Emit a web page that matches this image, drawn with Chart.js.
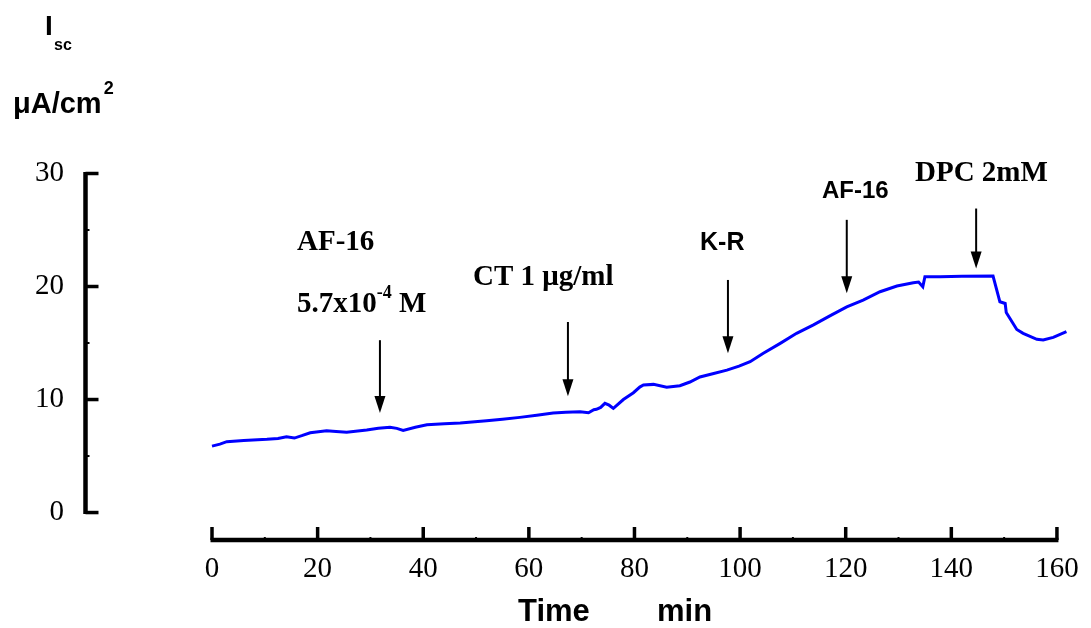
<!DOCTYPE html>
<html>
<head>
<meta charset="utf-8">
<script src="https://cdn.jsdelivr.net/npm/chart.js@4/dist/chart.umd.min.js"></script>
<style>
  body { margin: 0; background: #fff; }
  canvas { display: block; }
</style>
</head>
<body>
<canvas id="isc" width="1091" height="628"></canvas>
<script>
// time (min) and short-circuit current (uA/cm2)
var times = [0, 1.5, 2.8, 6, 10.4, 12.5, 14.1, 15.6, 17, 18.6, 21.7, 23.5, 25.5, 29.3, 31.5, 33.7, 35, 36.2, 38.5, 40.7,
    44, 47, 52, 55, 58.3, 61.5, 64.6, 67, 69.7, 71.3, 72.3, 72.8, 73.6, 74.4, 75.2, 76, 77.9, 79.8, 81, 81.7,
    83.6, 86.1, 88.6, 90.5, 92.4, 95, 97.5, 99.8, 101.9, 104.4, 107.6, 110.7, 113.9, 117, 120.2, 123.3, 126.5, 129.7,
    132.8, 133.8, 134.6, 135, 137.9, 142, 147.9, 149.2, 150.2, 150.4, 152.4, 153.6, 156.2, 157.4, 159.3, 161.8];
var isc = [5.88, 6.05, 6.27, 6.38, 6.48, 6.55, 6.71, 6.59, 6.8, 7.06, 7.24, 7.18, 7.1, 7.3, 7.45, 7.54, 7.45, 7.27, 7.55, 7.77,
    7.85, 7.92, 8.12, 8.25, 8.42, 8.6, 8.8, 8.88, 8.92, 8.83, 9.1, 9.13, 9.3, 9.66, 9.5, 9.22, 10.0, 10.6, 11.1, 11.28,
    11.34, 11.08, 11.22, 11.55, 12.0, 12.3, 12.6, 12.95, 13.35, 14.09, 14.97, 15.86, 16.6, 17.4, 18.2, 18.8, 19.54, 20.04,
    20.34, 20.4, 19.98, 20.87, 20.87, 20.9, 20.93, 18.65, 18.5, 17.7, 16.2, 15.86, 15.33, 15.27, 15.5, 16.0];

var xTicks = [0, 20, 40, 60, 80, 100, 120, 140, 160];
var xMinor = [10, 30, 50, 70, 90, 110, 130, 150];
var yTicks = [0, 10, 20, 30];
var yMinor = [5, 15, 25];

// arrows: time, top of shaft, tip (in uA/cm2)
var arrowT = [31.8, 67.4, 97.7, 120.2, 144.7];
var arrowTop = [15.25, 16.86, 20.58, 25.9, 26.9];
var arrowTip = [8.8, 10.3, 14.1, 19.4, 21.6];

var serif = '"Liberation Serif", "Times New Roman", serif';
var sans = '"Liberation Sans", Arial, sans-serif';

var pts = [];
for (var i = 0; i < times.length; i++) {
    pts.push({x: times[i], y: isc[i]});
}

var decor = {
    id: 'decor',
    afterDraw: function (chart) {
        var ctx = chart.ctx;
        var xs = chart.scales.x, ys = chart.scales.y;
        var ax = chart.chartArea.left + 0.5;
        var ay = chart.chartArea.bottom;
        ctx.save();
        ctx.strokeStyle = '#000';
        ctx.fillStyle = '#000';
        ctx.lineCap = 'butt';

        // y axis
        ctx.lineWidth = 4.5;
        ctx.beginPath();
        ctx.moveTo(ax, ys.getPixelForValue(0) + 1.5);
        ctx.lineTo(ax, ys.getPixelForValue(30) - 1.5);
        ctx.stroke();
        ctx.lineWidth = 3.5;
        yTicks.forEach(function (v) {
            var p = ys.getPixelForValue(v);
            ctx.beginPath(); ctx.moveTo(ax, p); ctx.lineTo(ax + 13, p); ctx.stroke();
        });
        ctx.lineWidth = 2;
        yMinor.forEach(function (v) {
            var p = ys.getPixelForValue(v);
            ctx.beginPath(); ctx.moveTo(ax, p); ctx.lineTo(ax + 4, p); ctx.stroke();
        });

        // x axis
        ctx.lineWidth = 4.5;
        ctx.beginPath();
        ctx.moveTo(xs.getPixelForValue(0) - 1.5, ay);
        ctx.lineTo(xs.getPixelForValue(160) + 1.5, ay);
        ctx.stroke();
        ctx.lineWidth = 3.5;
        xTicks.forEach(function (v) {
            var p = xs.getPixelForValue(v);
            ctx.beginPath(); ctx.moveTo(p, ay); ctx.lineTo(p, ay - 13); ctx.stroke();
        });
        ctx.lineWidth = 2;
        xMinor.forEach(function (v) {
            var p = xs.getPixelForValue(v);
            ctx.beginPath(); ctx.moveTo(p, ay); ctx.lineTo(p, ay - 3); ctx.stroke();
        });

        // arrows
        for (var k = 0; k < arrowT.length; k++) {
            var px = xs.getPixelForValue(arrowT[k]);
            var y1 = ys.getPixelForValue(arrowTop[k]);
            var y2 = ys.getPixelForValue(arrowTip[k]);
            ctx.lineWidth = 2;
            ctx.beginPath(); ctx.moveTo(px, y1); ctx.lineTo(px, y2 - 12); ctx.stroke();
            ctx.beginPath();
            ctx.moveTo(px - 5.5, y2 - 17);
            ctx.lineTo(px + 5.5, y2 - 17);
            ctx.lineTo(px, y2);
            ctx.closePath();
            ctx.fill();
        }

        ctx.textAlign = 'left';
        ctx.textBaseline = 'alphabetic';

        // y title
        ctx.font = 'bold 28px ' + sans;
        ctx.fillText('I', 45, 35);
        ctx.font = 'bold 16px ' + sans;
        ctx.fillText('sc', 54, 50);
        ctx.font = 'bold 29px ' + sans;
        ctx.fillText('\u03bcA/cm', 13, 113);
        var w = ctx.measureText('\u03bcA/cm').width;
        ctx.font = 'bold 18px ' + sans;
        ctx.fillText('2', 13 + w + 2, 94);

        // x title
        ctx.font = 'bold 31px ' + sans;
        ctx.fillText('Time', 518, 621);
        ctx.fillText('min', 657, 621);

        // annotations
        ctx.font = 'bold 29px ' + serif;
        ctx.fillText('AF-16', 297, 250);
        var s1 = '5.7x10';
        ctx.fillText(s1, 297, 312);
        var w1 = ctx.measureText(s1).width;
        ctx.font = 'bold 18px ' + serif;
        ctx.fillText('-4', 297 + w1, 298);
        var w2 = ctx.measureText('-4').width;
        ctx.font = 'bold 29px ' + serif;
        ctx.fillText(' M', 297 + w1 + w2, 312);
        ctx.fillText('CT 1 \u03bcg/ml', 473, 285);
        ctx.fillText('DPC 2mM', 915, 181);

        ctx.font = 'bold 25px ' + sans;
        ctx.fillText('K-R', 700, 250);
        ctx.font = 'bold 24px ' + sans;
        ctx.fillText('AF-16', 822, 198);

        ctx.restore();
    }
};

new Chart(document.getElementById('isc'), {
    type: 'line',
    data: {
        datasets: [{
            data: pts,
            borderColor: '#0000ff',
            borderWidth: 3,
            pointRadius: 0,
            tension: 0,
            fill: false
        }]
    },
    options: {
        responsive: false,
        animation: false,
        layout: { padding: { top: 173.5, right: 23.5, left: 0, bottom: 0 } },
        plugins: { legend: { display: false }, tooltip: { enabled: false } },
        scales: {
            x: {
                type: 'linear',
                min: -24.05,
                max: 162,
                grid: { display: false },
                border: { display: false },
                afterBuildTicks: function (scale) {
                    scale.ticks = xTicks.map(function (v) { return {value: v}; });
                },
                afterFit: function (scale) { scale.height = 88; },
                ticks: {
                    color: '#000',
                    padding: 4,
                    maxRotation: 0,
                    autoSkip: false,
                    font: { family: serif, size: 29 }
                }
            },
            y: {
                min: -2.43,
                max: 30,
                grid: { display: false },
                border: { display: false },
                afterBuildTicks: function (scale) {
                    scale.ticks = yTicks.map(function (v) { return {value: v}; });
                },
                afterFit: function (scale) { scale.width = 85; },
                ticks: {
                    color: '#000',
                    padding: 13,
                    autoSkip: false,
                    font: { family: serif, size: 29 }
                }
            }
        }
    },
    plugins: [decor]
});
</script>
</body>
</html>
